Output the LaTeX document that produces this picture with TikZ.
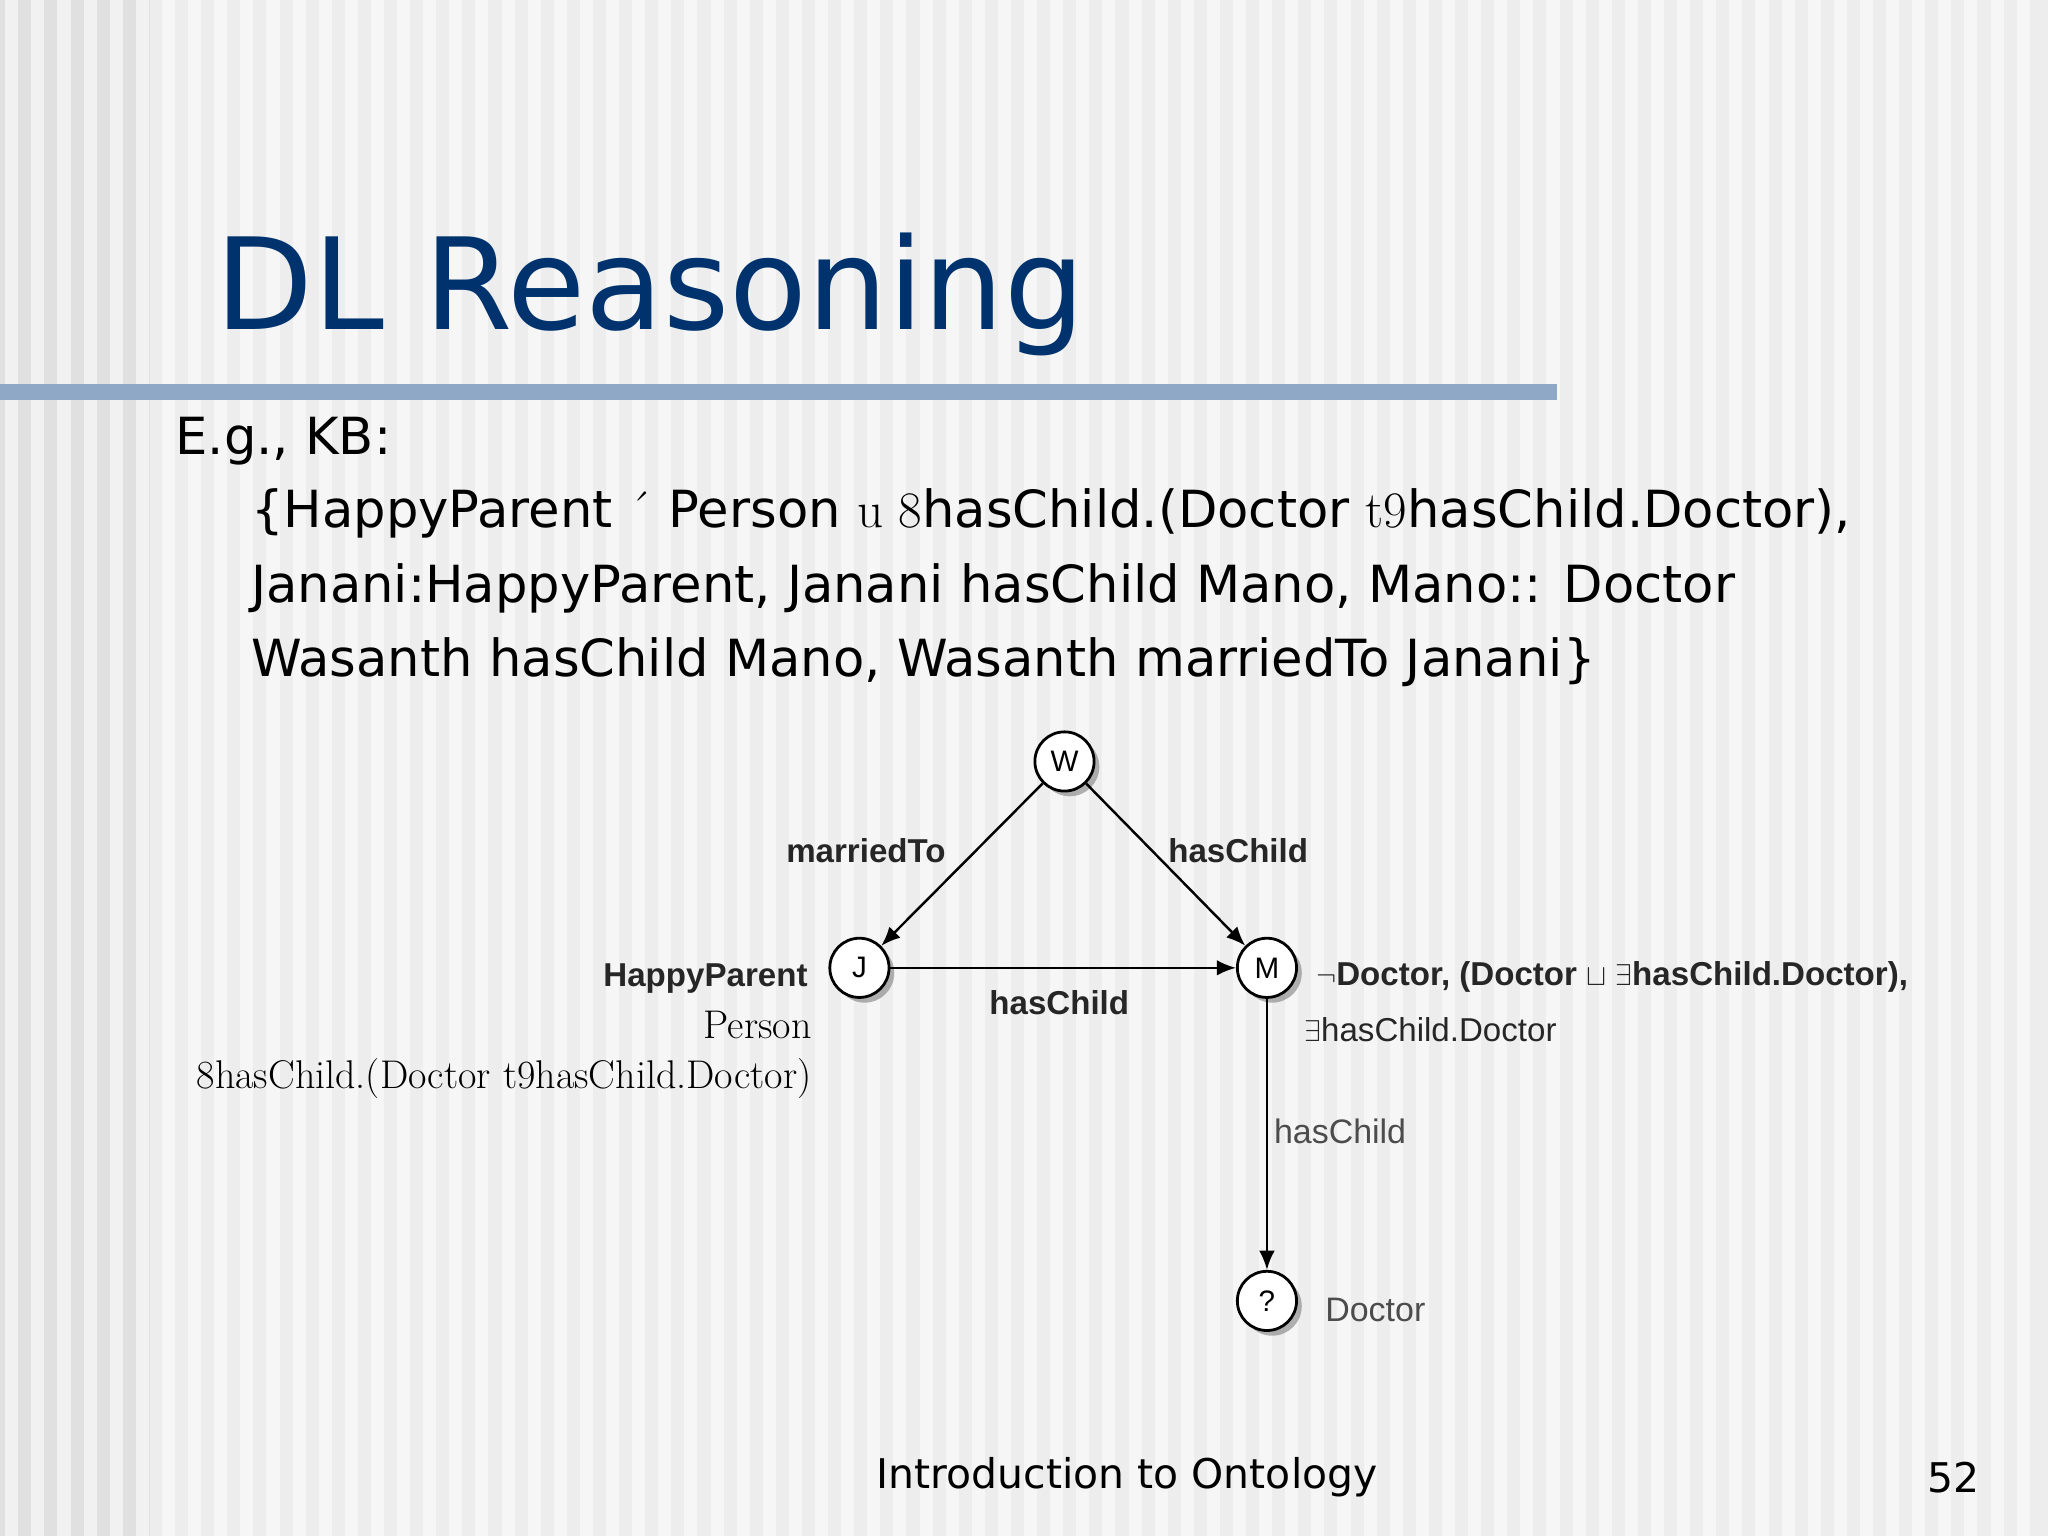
\documentclass[tikz,border=0pt]{standalone}
\usepackage{fontspec}
\setmainfont{DejaVu Sans}
\newfontfamily\lserif{Latin Modern Roman}
\newfontfamily\arialf{Liberation Sans}
\usetikzlibrary{shadows,arrows.meta}
\definecolor{titleblue}{RGB}{0,51,110}
\definecolor{barblue}{RGB}{143,168,198}
\tikzset{
 circ/.style={circle,draw,line width=1.6pt,fill=white,minimum size=34,inner sep=0pt,font=\arialf\fontsize{17}{17}\selectfont,
   drop shadow={shadow xshift=3pt,shadow yshift=-3pt,opacity=0.6}},
 edge/.style={line width=1.4pt,-{Latex[length=11pt,width=9pt]}},
 elab/.style={font=\arialf\bfseries\fontsize{19}{19}\selectfont,text=black!85},
 glab/.style={font=\arialf\fontsize{19.5}{19.5}\selectfont,text=black!70},
 body/.style={font=\fontsize{29.4}{36}\selectfont,anchor=base west,inner sep=0pt}
}
\begin{document}
\begin{tikzpicture}[x=0.75pt,y=-0.75pt]
\useasboundingbox (0,0) rectangle (1568,1176);
\fill[black!7] (0,0) rectangle (1568,1176);
\fill[black!12] (0,0) rectangle (115,1176);
\foreach \i in {0,...,77}{\fill[white,opacity=0.55] (\i*20+4,0) rectangle (\i*20+14,1176);}
\fill[barblue] (0,294) rectangle (1192,306);
\node[anchor=base west,inner sep=0pt,text=titleblue,font=\fontsize{73}{78}\selectfont] (title) at (165,252) {DL Reasoning};
\node[body] (eg) at (134,348) {E.g., KB:};
\node[body] (l1) at (192,404) {\{HappyParent {\lserif\'{}} Person {\lserif u 8}hasChild.(Doctor {\lserif t9}hasChild.Doctor),};
\node[body] (l2) at (192,461) {Janani:HappyParent, Janani hasChild Mano, Mano:: Doctor};
\node[body] (l3) at (192,518) {Wasanth hasChild Mano, Wasanth marriedTo Janani\}};
\node[circ] (W) at (815,583) {W};
\node[circ] (J) at (658,741) {J};
\node[circ] (M) at (970,741) {M};
\node[circ] (Q) at (970,996) {?};
\draw[edge] (W) -- (J);
\draw[edge] (W) -- (M);
\draw[edge] (J) -- (M);
\draw[edge] (M) -- (Q);
\node[elab] (lm) at (663,651) {marriedTo};
\node[elab] (lh1) at (948,651) {hasChild};
\node[elab] (lh2) at (811,768) {hasChild};
\node[glab] (lh3) at (1026,866) {hasChild};
\node[glab] (ld) at (1053,1003) {Doctor};
\node[elab,anchor=east] (hp) at (623,749) {HappyParent};
\node[anchor=east,font=\lserif\fontsize{23}{23}\selectfont] (pe) at (626,785) {Person};
\node[anchor=east,font=\lserif\fontsize{23}{23}\selectfont] (ex) at (626,826) {8hasChild.(Doctor {\lserif t9}hasChild.Doctor)};
\node[elab,anchor=west] (md) at (1003,748) {$\neg$Doctor, (Doctor $\sqcup$ $\exists$hasChild.Doctor),};
\node[elab,anchor=west,font=\arialf\fontsize{19}{19}\selectfont] (md2) at (994,788) {$\exists$hasChild.Doctor};
\node[font=\fontsize{23.5}{24}\selectfont] (ft) at (863,1131) {Introduction to Ontology};
\node[font=\fontsize{23.5}{24}\selectfont] (pg) at (1496,1131) {52};
\end{tikzpicture}
\end{document}
